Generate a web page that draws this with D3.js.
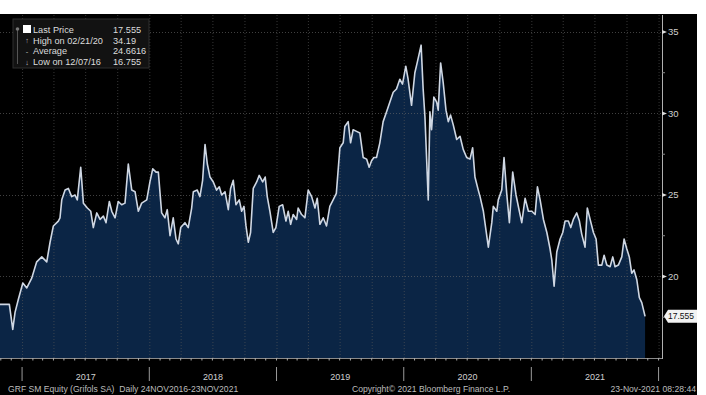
<!DOCTYPE html>
<html><head><meta charset="utf-8">
<script src="https://cdn.jsdelivr.net/npm/d3@7"></script>
<style>
html,body{margin:0;padding:0;background:#fff;}
svg{display:block;}
text{font-family:"Liberation Sans",Arial,sans-serif;}
</style></head>
<body>
<svg id="c" width="706" height="395"></svg>
<script>
// Dates as decimal years, prices in EUR
const yearFrac = [
2016.827,2016.900,2016.927,2016.945,2016.971,2017.006,2017.037,2017.076,2017.115,2017.155,
2017.194,2017.220,2017.246,2017.285,2017.298,2017.312,2017.338,2017.364,2017.390,2017.416,
2017.434,2017.461,2017.482,2017.513,2017.540,2017.560,2017.587,2017.613,2017.639,2017.660,
2017.686,2017.705,2017.731,2017.756,2017.783,2017.809,2017.835,2017.862,2017.888,2017.914,
2017.940,2017.980,2018.005,2018.027,2018.053,2018.071,2018.097,2018.123,2018.141,2018.163,
2018.188,2018.210,2018.228,2018.247,2018.280,2018.306,2018.333,2018.346,2018.377,2018.398,
2018.419,2018.438,2018.456,2018.477,2018.503,2018.529,2018.550,2018.569,2018.595,2018.621,
2018.639,2018.660,2018.681,2018.707,2018.726,2018.744,2018.760,2018.778,2018.796,2018.817,
2018.844,2018.864,2018.891,2018.911,2018.927,2018.948,2018.974,2018.995,2019.021,2019.048,
2019.074,2019.092,2019.111,2019.131,2019.158,2019.170,2019.197,2019.223,2019.249,2019.276,
2019.302,2019.320,2019.341,2019.367,2019.393,2019.419,2019.445,2019.470,2019.498,2019.524,
2019.537,2019.563,2019.582,2019.602,2019.629,2019.655,2019.681,2019.708,2019.728,2019.747,
2019.765,2019.786,2019.812,2019.838,2019.865,2019.891,2019.917,2019.943,2019.969,2019.990,
2020.016,2020.034,2020.061,2020.087,2020.105,2020.136,2020.152,2020.166,2020.192,2020.205,
2020.218,2020.236,2020.258,2020.270,2020.289,2020.309,2020.331,2020.349,2020.367,2020.388,
2020.415,2020.441,2020.466,2020.493,2020.519,2020.540,2020.558,2020.584,2020.598,2020.624,
2020.663,2020.690,2020.702,2020.729,2020.741,2020.768,2020.786,2020.807,2020.828,2020.854,
2020.880,2020.906,2020.925,2020.951,2020.977,2021.004,2021.030,2021.048,2021.069,2021.095,
2021.122,2021.147,2021.161,2021.179,2021.200,2021.226,2021.247,2021.265,2021.291,2021.310,
2021.330,2021.357,2021.378,2021.396,2021.422,2021.440,2021.462,2021.488,2021.509,2021.527,
2021.554,2021.572,2021.593,2021.619,2021.640,2021.658,2021.684,2021.711,2021.729,2021.750,
2021.770,2021.789,2021.807,2021.829,2021.849,2021.868,2021.894
];
const price = [
18.29,18.30,16.755,17.8,18.6,19.6,19.3,19.9,20.9,21.2,
20.9,22.1,23.1,23.4,23.6,24.7,25.3,25.4,24.9,25.0,
24.7,26.7,24.5,24.2,24.0,23.0,23.9,23.5,23.7,23.3,
24.6,24.0,23.6,24.6,24.4,24.5,26.9,25.3,25.2,24.0,
24.5,24.7,25.8,26.6,26.4,26.4,23.9,23.6,24.1,22.5,
23.6,22.3,22.0,23.0,23.3,23.0,24.2,25.2,25.3,24.9,
25.9,28.1,26.9,26.1,25.8,25.3,25.5,25.0,25.2,24.1,
25.4,25.9,24.4,24.7,24.0,24.3,23.1,22.1,22.7,25.4,
25.8,26.2,25.8,26.1,24.9,24.0,22.7,23.0,24.3,24.4,
23.4,24.0,23.2,23.8,23.5,24.2,23.8,23.6,25.3,24.9,
24.2,24.8,23.2,23.6,23.1,24.3,24.7,25.1,27.9,28.2,
29.2,29.5,28.2,29.0,28.9,28.8,27.3,27.2,26.7,27.1,
27.3,27.3,28.2,29.5,30.1,30.7,31.3,31.5,32.1,31.8,
32.9,32.1,30.5,32.5,33.1,34.19,31.5,29.8,24.7,30.1,
29.0,31.0,30.7,30.2,33.1,31.9,30.2,29.5,29.9,29.3,
28.4,28.6,27.8,27.3,27.2,27.9,26.1,25.3,24.9,24.0,
21.8,23.3,24.3,24.0,24.7,25.3,27.3,25.1,23.3,26.4,
25.0,24.0,23.3,24.8,24.0,24.0,23.8,25.5,24.7,23.5,
22.7,21.7,21.0,19.4,21.5,22.3,22.7,23.4,23.4,23.0,
23.5,23.9,23.4,22.6,21.8,24.2,23.5,22.7,22.3,20.7,
20.7,21.3,20.7,20.6,21.2,20.6,20.7,21.2,22.3,21.7,
21.2,20.2,20.4,19.8,18.7,18.4,17.555
];
const yTicks = [20, 25, 30, 35];
const yMinorTicks = [17.5, 22.5, 27.5, 32.5];
const yearLabels = [2017, 2018, 2019, 2020, 2021];
const yearBreaks = [2017, 2018, 2019, 2020, 2021, 2022];
const legendLabels = ["Last Price", "High on 02/21/20", "Average", "Low on 12/07/16"];
const legendValues = ["17.555", "34.19", "24.6616", "16.755"];
const lastPrice = 17.555;
const footerLeft = "GRF SM Equity (Grifols SA)  Daily 24NOV2016-23NOV2021";
const footerMid = "Copyright\u00A9 2021 Bloomberg Finance L.P.";
const footerRight = "23-Nov-2021 08:28:44";

const fromYear = t => { const yy = Math.floor(t); const s = Date.UTC(yy,0,1), e = Date.UTC(yy+1,0,1); return new Date(s + (t-yy)*(e-s)); };
const data = yearFrac.map((t,i) => ({d: fromYear(t), v: price[i]}));

const svg = d3.select("#c");
const plotTop = 15, plotBottom = 358, axisX = 662;
const x = d3.scaleUtc().domain([fromYear(2016.827), fromYear(2022.027)]).range([0, axisX]);
const y = d3.scaleLinear().domain([15, 36.04]).range([plotBottom, plotTop]);

// background panel
svg.append("rect").attr("x",0).attr("y",14).attr("width",697).attr("height",381).attr("fill","#000");

// area
svg.append("path").datum(data)
  .attr("d", d3.area().x(d => x(d.d)).y0(plotBottom).y1(d => y(d.v)))
  .attr("fill","#0b2545");

// gridlines (drawn over the fill, as in the reference)
const quarters = d3.utcMonth.every(3).range(x.domain()[0], x.domain()[1]);
svg.append("g").selectAll("line").data(quarters).join("line")
  .attr("x1", d => x(d)+0.5).attr("x2", d => x(d)+0.5).attr("y1", plotTop).attr("y2", plotBottom)
  .attr("stroke","#5a5a5a").attr("stroke-opacity",0.6).attr("stroke-width",1).attr("stroke-dasharray","1,2");
svg.append("g").selectAll("line").data(yTicks).join("line")
  .attr("x1",0).attr("x2",axisX).attr("y1", d => Math.round(y(d))+0.5).attr("y2", d => Math.round(y(d))+0.5)
  .attr("stroke","#6a6a6a").attr("stroke-opacity",0.6).attr("stroke-width",1).attr("stroke-dasharray","1,2");

// price line
svg.append("path").datum(data)
  .attr("d", d3.line().x(d => x(d.d)).y(d => y(d.v)))
  .attr("fill","none").attr("stroke","#cfd7e3").attr("stroke-width",1.6).attr("stroke-linejoin","round");

// axes lines
svg.append("line").attr("x1",axisX+0.5).attr("x2",axisX+0.5).attr("y1",plotTop).attr("y2",plotBottom+1)
  .attr("stroke","#b0b0b0").attr("stroke-width",1);
svg.append("line").attr("x1",0).attr("x2",axisX).attr("y1",plotBottom+0.5).attr("y2",plotBottom+0.5)
  .attr("stroke","#8a8a8a").attr("stroke-width",1);
// monthly ticks on bottom axis
const months = d3.utcMonth.every(1).range(x.domain()[0], x.domain()[1]);
svg.append("g").selectAll("line").data(months).join("line")
  .attr("x1", d => x(d)).attr("x2", d => x(d)).attr("y1", plotBottom).attr("y2", plotBottom+2.5)
  .attr("stroke","#aaa").attr("stroke-width",1);

// right axis ticks & labels
const yt = svg.append("g");
yt.selectAll("path").data(yTicks).join("path")
  .attr("d", d => `M${axisX},${y(d)-2}L${axisX+5},${y(d)}L${axisX},${y(d)+2}Z`)
  .attr("fill","#ddd");
yt.selectAll("text").data(yTicks).join("text")
  .attr("x", axisX+6).attr("y", d => y(d)).attr("dy","0.35em")
  .attr("fill","#cfcfcf").attr("font-size",9.5).text(d => d);
svg.append("g").selectAll("line").data(yMinorTicks).join("line")
  .attr("x1",axisX).attr("x2",axisX+3).attr("y1", d => y(d)).attr("y2", d => y(d))
  .attr("stroke","#888");

// last price tag
const ly = y(lastPrice);
svg.append("path")
  .attr("d", `M${axisX+2},${ly}L${axisX+6},${ly-6.5}L697,${ly-6.5}L697,${ly+6.5}L${axisX+6},${ly+6.5}Z`)
  .attr("fill","#f2f2f2");
svg.append("text").attr("x", axisX+6).attr("y", ly).attr("dy","0.35em")
  .attr("fill","#111").attr("font-size",8.5).text(lastPrice.toFixed(3));

// year separators and labels
svg.append("g").selectAll("line").data(yearBreaks).join("line")
  .attr("x1", d => x(fromYear(d))).attr("x2", d => x(fromYear(d)))
  .attr("y1", 367).attr("y2", 381).attr("stroke","#9a9a9a").attr("stroke-width",1);
svg.append("g").selectAll("text").data(yearLabels).join("text")
  .attr("x", d => x(fromYear(d + 0.5))).attr("y", 380).attr("text-anchor","middle")
  .attr("fill","#d0d0d0").attr("font-size",9).text(d => d);

// footer
svg.append("text").attr("x",8).attr("y",392).attr("fill","#bdbdbd").attr("font-size",8.6)
  .style("white-space","pre").text(footerLeft);
svg.append("text").attr("x",431).attr("y",392).attr("text-anchor","middle").attr("fill","#bdbdbd").attr("font-size",8.6).text(footerMid);
svg.append("text").attr("x",696).attr("y",392).attr("text-anchor","end").attr("fill","#bdbdbd").attr("font-size",8.6).text(footerRight);

// legend
const lg = svg.append("g");
lg.append("rect").attr("x",13).attr("y",19).attr("width",136).attr("height",49)
  .attr("fill","#121212").attr("stroke","#2e2e2e");
lg.append("line").attr("x1",17.5).attr("x2",17.5).attr("y1",28).attr("y2",64).attr("stroke","#555");
lg.append("circle").attr("cx",17.5).attr("cy",29).attr("r",1.8).attr("fill","#777");
lg.append("rect").attr("x",23).attr("y",25).attr("width",8).attr("height",8).attr("fill","#fff");
const glyphs = ["", "\u2191", "-", "\u2193"];
legendLabels.forEach((l,i) => {
  const ty = 29.5 + i*10.8;
  if (i > 0) lg.append("text").attr("x",27).attr("y",ty).attr("dy","0.35em").attr("text-anchor","middle")
    .attr("fill","#bbb").attr("font-size",7.5).text(glyphs[i]);
  lg.append("text").attr("x",33).attr("y",ty).attr("dy","0.35em").attr("fill","#dcdcdc").attr("font-size",9.2).text(l);
  lg.append("text").attr("x",113).attr("y",ty).attr("dy","0.35em").attr("fill","#dcdcdc").attr("font-size",9.2).text(legendValues[i]);
});
</script>
</body></html>
